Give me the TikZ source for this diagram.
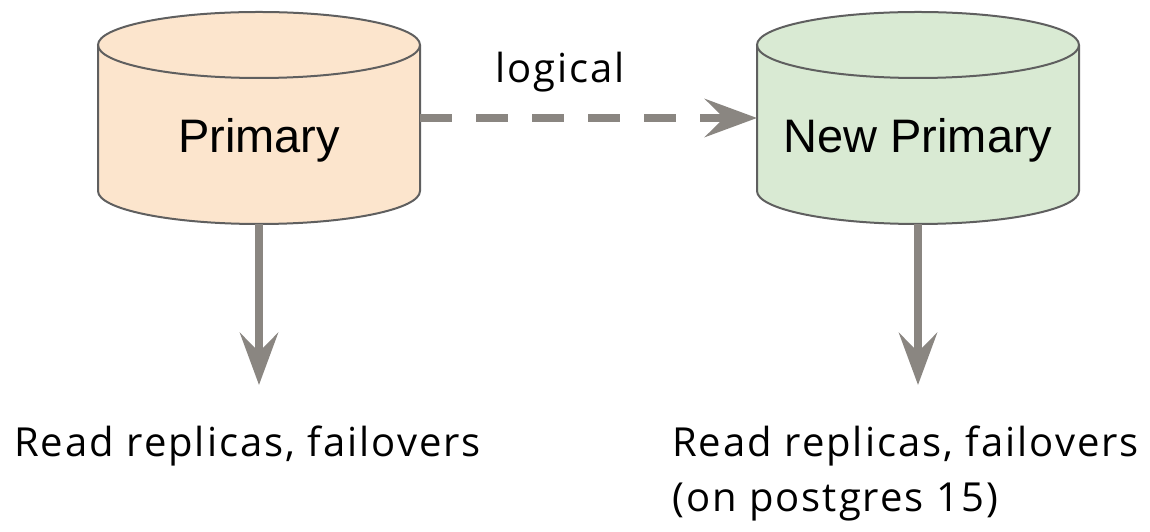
\documentclass[tikz,border=0pt]{standalone}
\usepackage{fontspec}
\setmainfont{Liberation Sans}
\newfontfamily\notefont[LetterSpace=5]{Open Sans}
\usetikzlibrary{arrows.meta}

\definecolor{dbedge}{HTML}{5F5F5F}
\definecolor{oldfill}{HTML}{FCE5CD}
\definecolor{newfill}{HTML}{D9EAD3}
\definecolor{flow}{HTML}{8A8681}

% cylinder body: #1 = centre x, #2 = fill colour
\newcommand\dbshape[2]{%
  \fill[#2] (#1-161,487) -- (#1-161,341)
    arc[start angle=180,end angle=360,x radius=161,y radius=33]
    -- (#1+161,487)
    arc[start angle=0,end angle=180,x radius=161,y radius=33] -- cycle;
  \draw[dbedge,line width=2pt,line join=round] (#1-161,487) -- (#1-161,341)
    arc[start angle=180,end angle=360,x radius=161,y radius=33]
    -- (#1+161,487);
  \draw[dbedge,line width=2pt] (#1,487) ellipse[x radius=161,y radius=33];
}

\begin{document}
\begin{tikzpicture}[x=1pt,y=1pt,
  dbbody/.style={minimum width=322pt,minimum height=212pt,inner sep=0pt,outer sep=0pt},
  dbname/.style={font=\fontsize{47}{56}\selectfont,anchor=base,inner sep=0pt},
  note/.style={font=\notefont\fontsize{40}{55}\selectfont,anchor=base west,inner sep=0pt},
  flowline/.style={draw=flow,line width=8pt,-{Stealth[length=52pt,width=38pt,inset=19pt]}},
]
\useasboundingbox (0,0) rectangle (1150,532);

% the two databases
\dbshape{259}{oldfill}
\dbshape{918}{newfill}
\node[dbbody] (pri) at (259,414) {};
\node[dbbody] (new) at (918,414) {};
\node[dbname] (pritxt) at (259,379) {Primary};
\node[dbname] (newtxt) at (918,379) {New Primary};

% logical replication link
\draw[flowline,dash pattern=on 32pt off 24pt] (pri.east) -- (new.west);
\node[note,anchor=base] (logic) at (560,449) {logical};

% downstream replicas
\coordinate (pritip) at (259,147);
\coordinate (newtip) at (918,147);
\draw[flowline] (pri.south) -- (pritip);
\draw[flowline] (new.south) -- (newtip);

\node[note] (rdold) at (14,75) {Read replicas, failovers};
\node[note] (rdnew) at (672,75) {Read replicas, failovers};
\node[note] (rdver) at (672,20) {(on postgres 15)};
\end{tikzpicture}
\end{document}
